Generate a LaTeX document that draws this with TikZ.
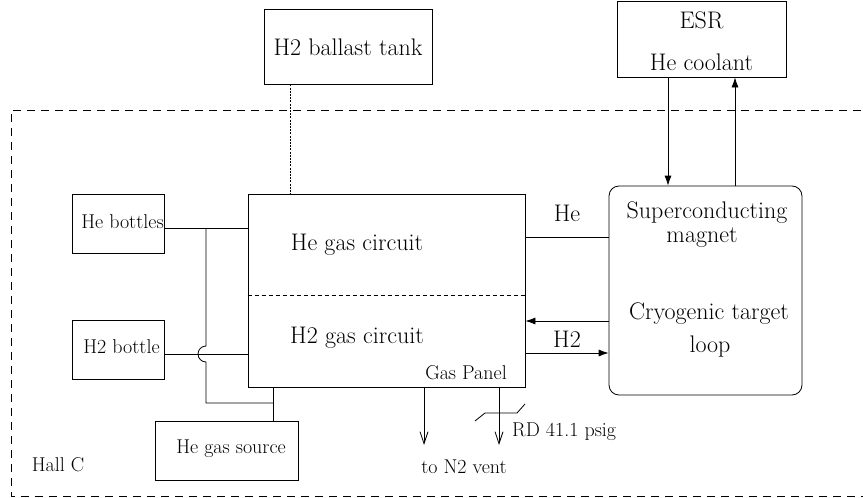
\documentclass[tikz,border=0pt]{standalone}
\usetikzlibrary{arrows.meta}
\begin{document}
\begin{tikzpicture}[x=1pt,y=-1pt,
  box/.style={draw, line width=0.8pt, inner sep=0pt, rectangle},
  big/.style={inner sep=0pt, font=\fontsize{24}{28}\selectfont},
  small/.style={inner sep=0pt, font=\fontsize{20}{24}\selectfont},
  pipe/.style={line width=0.8pt},
  flow/.style={pipe, -{Latex[length=10pt,width=7pt]}},
  vent/.style={pipe, -{Straight Barb[length=12pt,width=8pt]}},
  hall/.style={line width=0.8pt, dash pattern=on 8pt off 6pt},
  divider/.style={line width=0.7pt, dash pattern=on 4pt off 3pt},
  ballast/.style={line width=0.9pt, dash pattern=on 2pt off 1.2pt}]
\useasboundingbox (0,0) rectangle (863,498);

% Hall C boundary
\draw[hall] (875,110) -- (11,110) -- (11,496) -- (875,496);
\node[small, anchor=center] (hallc) at (58,465) {Hall C};

% boxes
\node[box, minimum width=168pt, minimum height=75pt] (tank) at (348,46.5) {};
\node[big] (tanktxt) at (348,47) {H2 ballast tank};

\node[box, minimum width=169pt, minimum height=76pt] (esr) at (701.5,39) {};
\node[big] (esrtxt) at (701.5,20) {ESR};
\node[big] (cooltxt) at (701.5,62) {He coolant};

\node[box, rounded corners=10pt, minimum width=193pt, minimum height=209pt] (mag) at (705.5,290.5) {};
\node[big] (sc) at (707,213) {Superconducting};
\node[big] (mg) at (702,238) {magnet};
\node[big] (cr) at (709,314) {Cryogenic target};
\node[big] (lp) at (710,347) {loop};

\node[box, minimum width=277pt, minimum height=193pt] (panel) at (386.5,290.5) {};
\node[big] (hecirc) at (357,245) {He gas circuit};
\node[big] (h2circ) at (357,338) {H2 gas circuit};
\node[small] (gp) at (466,373) {Gas Panel};

\node[box, minimum width=92pt, minimum height=59pt] (hebot) at (118,223.5) {};
\node[small] (hebottxt) at (122.5,222) {He bottles};
\node[box, minimum width=92pt, minimum height=59pt] (h2bot) at (118,349.5) {};
\node[small] (h2bottxt) at (121.5,347) {H2 bottle};
\node[box, minimum width=143pt, minimum height=59pt] (hegas) at (226.5,450.5) {};
\node[small] (hegastxt) at (231,449) {He gas source};

% reference coordinates
\coordinate (xtank) at (290,0);
\coordinate (xdn) at (668,0);
\coordinate (xup) at (735,0);
\coordinate (yhe) at (0,237);
\coordinate (yret) at (0,321);
\coordinate (yh2) at (0,353);
\coordinate (yhb) at (0,228);
\coordinate (yh2b) at (0,354);
\coordinate (xbus) at (206,0);
\coordinate (xsrc) at (273,0);
\coordinate (ybot) at (0,403);
\coordinate (xv1) at (424,0);
\coordinate (xv2) at (499,0);
\coordinate (yv) at (0,445);

% ballast line
\draw[ballast] (xtank |- tank.south) -- (xtank |- panel.north);
\draw[divider] (panel.west |- 0,295) -- (panel.east |- 0,295);

% ESR loops
\draw[flow] (xdn |- esr.south) -- (xdn |- mag.north);
\draw[flow] (xup |- mag.north) -- (xup |- esr.south);

% He / H2 lines between panel and magnet
\draw[pipe] (panel.east |- yhe) -- (mag.west |- yhe);
\node[big] (helbl) at (567,213) {He};
\draw[flow] (mag.west |- yret) -- (panel.east |- yret);
\draw[flow] (panel.east |- yh2) -- (mag.west |- yh2);
\node[big] (h2lbl) at (567,339) {H2};

% bottles to panel
\draw[pipe] (hebot.east |- yhb) -- (panel.west |- yhb);
\draw[pipe] (h2bot.east |- yh2b) -- (panel.west |- yh2b);
\draw[pipe] (xbus |- yhb) -- (206,346) arc[start angle=90, end angle=270, radius=8pt] -- (xbus |- ybot) -- (xsrc |- ybot);
\draw[pipe] (xsrc |- panel.south) -- (xsrc |- hegas.north);

% vents
\draw[vent] (xv1 |- panel.south) -- (xv1 |- yv);
\draw[vent] (xv2 |- panel.south) -- (xv2 |- yv);
\draw[pipe] (475,421) -- (485,413) -- (517,413) -- (525,404);
\node[small, anchor=west] (rd) at (512,432) {RD 41.1 psig};
\node[small] (n2) at (464,467) {to N2 vent};
\end{tikzpicture}
\end{document}
